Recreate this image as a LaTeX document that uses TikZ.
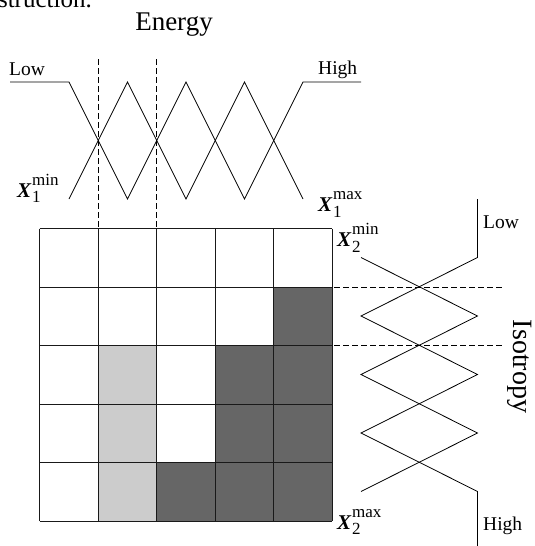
\documentclass[tikz,border=0pt]{standalone}
\usepackage{fontspec}
\setmainfont{Liberation Serif}
\usetikzlibrary{positioning}

% bold X with stacked index and bound
\newcommand{\xvar}[2]{\textbf{\textit{X}}\kern0.5pt\rlap{\raisebox{12pt}{\fontsize{17}{17}\selectfont#2}}\raisebox{-5.5pt}{\fontsize{17}{17}\selectfont#1}}

\begin{document}
\begin{tikzpicture}[
  x=1pt,y=-1pt,
  title/.style={inner sep=0pt,font=\fontsize{27}{28}\selectfont},
  lbl/.style={inner sep=0pt,font=\fontsize{19.5}{20}\selectfont},
  var/.style={inner sep=0pt,font=\fontsize{21}{22}\selectfont},
  mf/.style={line width=0.8pt,line join=miter},
  guide/.style={line width=0.9pt,dash pattern=on 5.5pt off 3.5pt},
  cell/.style={line width=0.9pt,black!90},
  darkcell/.style={fill=black!60},
  lightcell/.style={fill=black!20}
]
\useasboundingbox (0,0) rectangle (535,546);

% body text cut by the figure border
\node[title,font=\fontsize{25}{26}\selectfont,anchor=base east] (txt) at (92,7) {struction.};
\node[title,anchor=base] (energy) at (174,30.7) {Energy};
\node[title,font=\fontsize{28}{30}\selectfont,anchor=base,rotate=-90] (iso) at (513,366.5) {Isotropy};

% grid, cell size 58.5
\coordinate (g0) at (39.5,228.5);
\coordinate (g1) at (332,521);
\foreach \c/\r in {4/1,3/2,4/2,3/3,4/3,2/4,3/4,4/4}
  \fill[darkcell] ({39.5+\c*58.5},{228.5+\r*58.5}) rectangle ++(58.5,58.5);
\foreach \c/\r in {1/2,1/3,1/4}
  \fill[lightcell] ({39.5+\c*58.5},{228.5+\r*58.5}) rectangle ++(58.5,58.5);
\foreach \k in {0,...,5} {
  \draw[cell] ({39.5+\k*58.5},228.5) -- ++(0,292.5);
  \draw[cell] (39.5,{228.5+\k*58.5}) -- ++(292.5,0);
}

% energy membership functions
\draw[mf] (10,82) -- (69,82) -- (127.5,199) -- (186,82) -- (244.5,199) -- (303,82) -- (361,82);
\draw[mf] (69,199) -- (127.5,82) -- (186,199) -- (244.5,82) -- (303,199);
\node[lbl,anchor=base west] (elow) at (9,75) {Low};
\node[lbl,anchor=base west] (ehigh) at (318,74) {High};

% isotropy membership functions
\draw[mf] (477.5,199) -- (477.5,257.5) -- (361,316) -- (477.5,374.5) -- (361,433) -- (477.5,491.5) -- (477.5,546);
\draw[mf] (361,257.5) -- (477.5,316) -- (361,374.5) -- (477.5,433) -- (361,491.5);
\node[lbl,anchor=base west] (ilow) at (483,228) {Low};
\node[lbl,anchor=base west] (ihigh) at (483,530) {High};

% cell borders carried to the membership functions
\coordinate (d1) at (98,59);
\coordinate (d2) at (156.5,59);
\coordinate (h1) at (501.7,287);
\coordinate (h2) at (501.7,345.5);
\draw[guide] (d1) -- (d1 |- g0);
\draw[guide] (d2) -- (d2 |- g0);
\draw[guide] (h1) -- (h1 -| g1);
\draw[guide] (h2) -- (h2 -| g1);

% range bounds
\node[var,anchor=base west] (x1min) at (17,197) {\xvar{1}{min}};
\node[var,anchor=base west] (x1max) at (318,211.7) {\xvar{1}{max}};
\node[var,anchor=base west] (x2min) at (337,246.5) {\xvar{2}{min}};
\node[var,anchor=base west] (x2max) at (337,529) {\xvar{2}{max}};
\end{tikzpicture}
\end{document}
